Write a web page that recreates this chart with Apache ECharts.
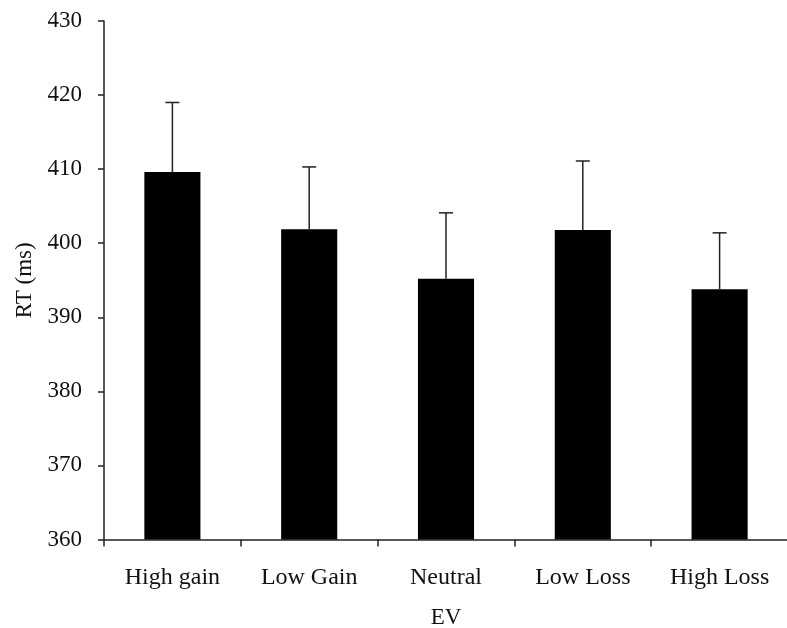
<!DOCTYPE html>
<html><head><meta charset="utf-8">
<script src="https://cdn.jsdelivr.net/npm/echarts@6/dist/echarts.min.js"></script>
<style>html,body{margin:0;padding:0;background:#fff}#c{width:787px;height:628px}</style>
</head><body><div id="c"></div>
<script>
const categories = ['High gain', 'Low Gain', 'Neutral', 'Low Loss', 'High Loss'];
const means = [409.6, 401.9, 395.2, 401.8, 393.8];
const errors = [9.4, 8.4, 8.9, 9.3, 7.6];
const yTicks = { min: 360, max: 430, interval: 10 };
const xName = 'EV';
const yName = 'RT (ms)';

const font = 'Liberation Serif';
const chart = echarts.init(document.getElementById('c'), null, {renderer: 'canvas'});
const errData = means.map((m, i) => [i, m, m + errors[i]]);
chart.setOption({
  backgroundColor: '#fff',
  animation: false,
  grid: { left: 104, right: -1, top: 21, bottom: 88.5, containLabel: false, outerBoundsMode: 'none' },
  xAxis: {
    type: 'category', data: categories,
    name: xName, nameLocation: 'middle', nameGap: 67,
    nameTextStyle: { fontFamily: font, fontSize: 23, color: '#111' },
    axisLine: { lineStyle: { color: '#222', width: 1.5 } },
    axisTick: { show: true, length: 7, lineStyle: { color: '#222', width: 1.5 } },
    axisLabel: { fontFamily: font, fontSize: 24, color: '#111', margin: 26 }
  },
  yAxis: {
    type: 'value', min: yTicks.min, max: yTicks.max, interval: yTicks.interval,
    name: yName, nameLocation: 'middle', nameGap: 66, nameRotate: 90,
    nameTextStyle: { fontFamily: font, fontSize: 23, color: '#111' },
    axisLine: { show: true, lineStyle: { color: '#222', width: 1.5 } },
    axisTick: { show: true, length: 6, lineStyle: { color: '#222', width: 1.5 } },
    splitLine: { show: false },
    axisLabel: { fontFamily: font, fontSize: 23, color: '#111', margin: 22 }
  },
  series: [
    {
      type: 'bar', data: means, barWidth: '41%',
      itemStyle: { color: '#000' }, z: 2
    },
    {
      type: 'custom', z: 3,
      data: errData,
      renderItem: function (params, api) {
        const x = api.value(0);
        const base = api.coord([x, api.value(1)]);
        const top = api.coord([x, api.value(2)]);
        const cap = 7;
        const style = { stroke: '#222', lineWidth: 1.5 };
        return {
          type: 'group',
          children: [
            { type: 'line', shape: { x1: base[0], y1: base[1], x2: top[0], y2: top[1] }, style: style },
            { type: 'line', shape: { x1: top[0] - cap, y1: top[1], x2: top[0] + cap, y2: top[1] }, style: style }
          ]
        };
      }
    }
  ]
});
</script></body></html>
